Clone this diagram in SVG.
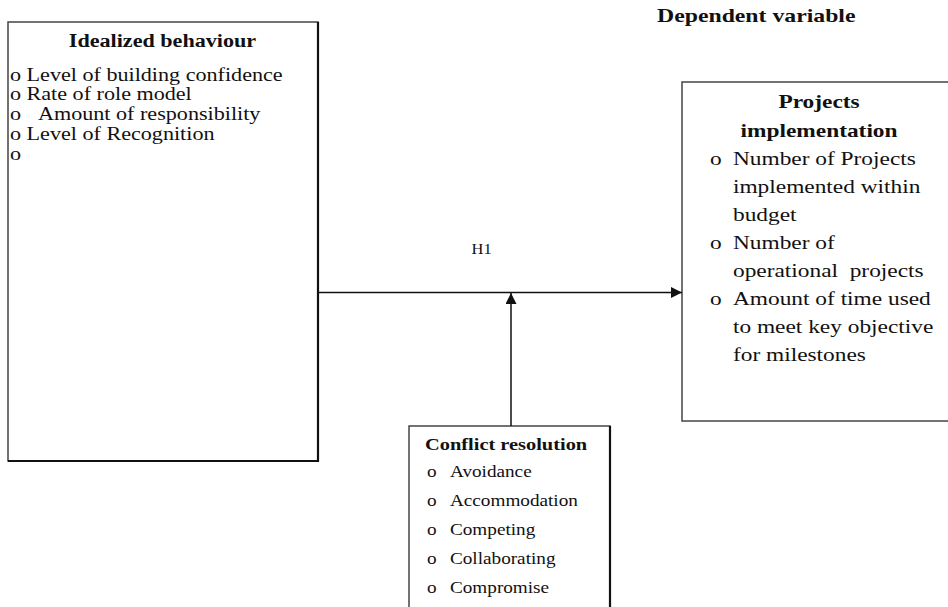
<svg xmlns="http://www.w3.org/2000/svg" width="948" height="607" viewBox="0 0 948 607">
<style>
  text { font-family: "Liberation Serif", "Times New Roman", serif; fill: #111; }
  .t { font-weight: bold; }
  .box { fill: #fff; stroke: #444; stroke-width: 1.5; }
  .edge { stroke: #111; stroke-width: 2.2; fill: none; }
  .conn { stroke: #111; stroke-width: 1.5; fill: none; }
</style>
<defs>
  <marker id="arr" markerUnits="userSpaceOnUse" markerWidth="12" markerHeight="11" refX="11" refY="5.5" orient="auto">
    <path d="M0,0 L11,5.5 L0,11 z" fill="#111"/>
  </marker>
</defs>
<rect width="948" height="607" fill="#fff"/>

<g id="label-dependent">
  <text class="t" font-size="19" transform="scale(1.25 1)" x="525.6" y="22">Dependent variable</text>
</g>

<g id="node-idealized">
  <rect class="box" x="8" y="22" width="310" height="439"/>
  <path class="edge" d="M318,22 V461 H8"/>
  <g transform="scale(1.23 1)" font-size="18">
    <text class="t" x="132.1" y="47" text-anchor="middle">Idealized behaviour</text>
    <text x="8.1" y="81">o Level of building confidence</text>
    <text x="8.1" y="100.5">o Rate of role model</text>
    <text y="120"><tspan x="8.1">o</tspan><tspan x="30.9">Amount of responsibility</tspan></text>
    <text x="8.1" y="140">o Level of Recognition</text>
    <text x="8.1" y="160">o</text>
  </g>
</g>

<g id="node-projects">
  <rect class="box" x="682" y="82" width="280" height="339"/>
  <g transform="scale(1.23 1)" font-size="19">
    <text class="t" x="665.9" y="108" text-anchor="middle">Projects</text>
    <text class="t" x="665.9" y="137" text-anchor="middle">implementation</text>
    <text x="577.2" y="165">o</text>
    <text x="595.9" y="165">Number of Projects</text>
    <text x="595.9" y="193">implemented within</text>
    <text x="595.9" y="221">budget</text>
    <text x="577.2" y="249">o</text>
    <text x="595.9" y="249">Number of</text>
    <text x="595.9" y="277" xml:space="preserve">operational  projects</text>
    <text x="577.2" y="305">o</text>
    <text x="595.9" y="305">Amount of time used</text>
    <text x="595.9" y="333">to meet key objective</text>
    <text x="595.9" y="361">for milestones</text>
  </g>
</g>

<g id="node-conflict">
  <rect class="box" x="409" y="426" width="201" height="200"/>
  <path class="edge" d="M610,426 V607"/>
  <g transform="scale(1.2 1)">
    <text class="t" font-size="17" x="354.2" y="450">Conflict resolution</text>
    <g font-size="16">
      <text x="355.8" y="477">o</text><text x="375" y="477">Avoidance</text>
      <text x="355.8" y="506">o</text><text x="375" y="506">Accommodation</text>
      <text x="355.8" y="535">o</text><text x="375" y="535">Competing</text>
      <text x="355.8" y="564">o</text><text x="375" y="564">Collaborating</text>
      <text x="355.8" y="593">o</text><text x="375" y="593">Compromise</text>
    </g>
  </g>
</g>

<g id="connectors">
  <line class="conn" x1="319" y1="292.5" x2="682" y2="292.5" marker-end="url(#arr)"/>
  <line class="conn" x1="511" y1="426" x2="511" y2="293" marker-end="url(#arr)"/>
  <text id="label-h1" font-size="15" transform="scale(1.1 1)" x="437.9" y="254" text-anchor="middle">H1</text>
</g>
</svg>
